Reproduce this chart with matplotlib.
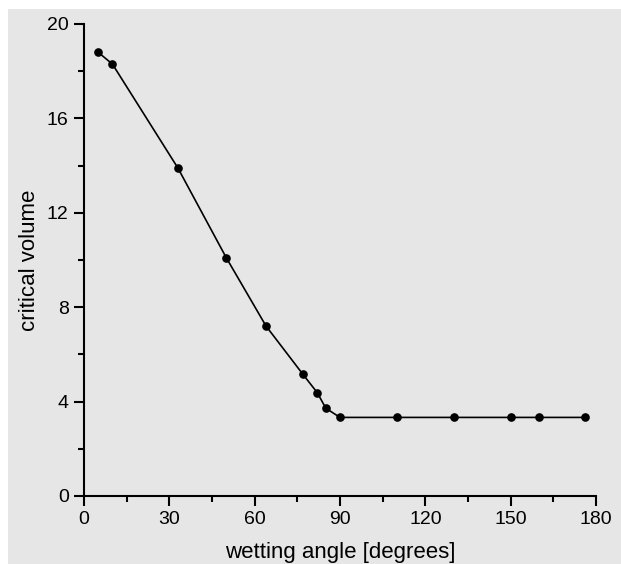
import numpy as np
import matplotlib.pyplot as plt
from matplotlib.patches import Rectangle
from matplotlib.ticker import MultipleLocator

# wetting angle [degrees] and critical volume
angle = [5, 10, 33, 50, 64, 77, 82, 85, 90, 110, 130, 150, 160, 176]
volume = [18.8, 18.3, 13.9, 10.1, 7.2, 5.15, 4.38, 3.72, 3.33, 3.33, 3.33, 3.33, 3.33, 3.33]

x_ticks = [0, 30, 60, 90, 120, 150, 180]
y_ticks = [0, 4, 8, 12, 16, 20]

plt.rcParams['font.family'] = ['Liberation Sans', 'DejaVu Sans']

bg = '#e6e6e6'
fig = plt.figure(figsize=(6.21, 5.64), dpi=100, facecolor=bg)
# thin white strips along the top and left edge
fig.patches.append(Rectangle((0, 1 - 9 / 564), 1, 9 / 564, transform=fig.transFigure,
                             facecolor='white', edgecolor='none', zorder=-1))
fig.patches.append(Rectangle((0, 0), 8 / 621, 1, transform=fig.transFigure,
                             facecolor='white', edgecolor='none', zorder=-1))

ax = fig.add_axes([84 / 621, 1 - 496 / 564, 512 / 621, 472 / 564])
ax.set_facecolor(bg)

ax.plot(angle, volume, '-', color='black', linewidth=1.2, marker='o', markersize=5.2, clip_on=False)

ax.set_xlim(0, 180)
ax.set_ylim(0, 20)
ax.set_xticks(x_ticks)
ax.set_yticks(y_ticks)
ax.xaxis.set_minor_locator(MultipleLocator(15))
ax.yaxis.set_minor_locator(MultipleLocator(2))

for side in ['top', 'right']:
    ax.spines[side].set_visible(False)
for side in ['left', 'bottom']:
    ax.spines[side].set_linewidth(1.5)

ax.tick_params(which='major', direction='out', length=7, width=1.5, labelsize=14, pad=4)
ax.tick_params(which='minor', direction='out', length=4, width=1.5)

ax.set_xlabel('wetting angle [degrees]', fontsize=16, labelpad=10)
ax.set_ylabel('critical volume', fontsize=16, labelpad=5)

fig.savefig('out.png', dpi=100, facecolor=fig.get_facecolor())
